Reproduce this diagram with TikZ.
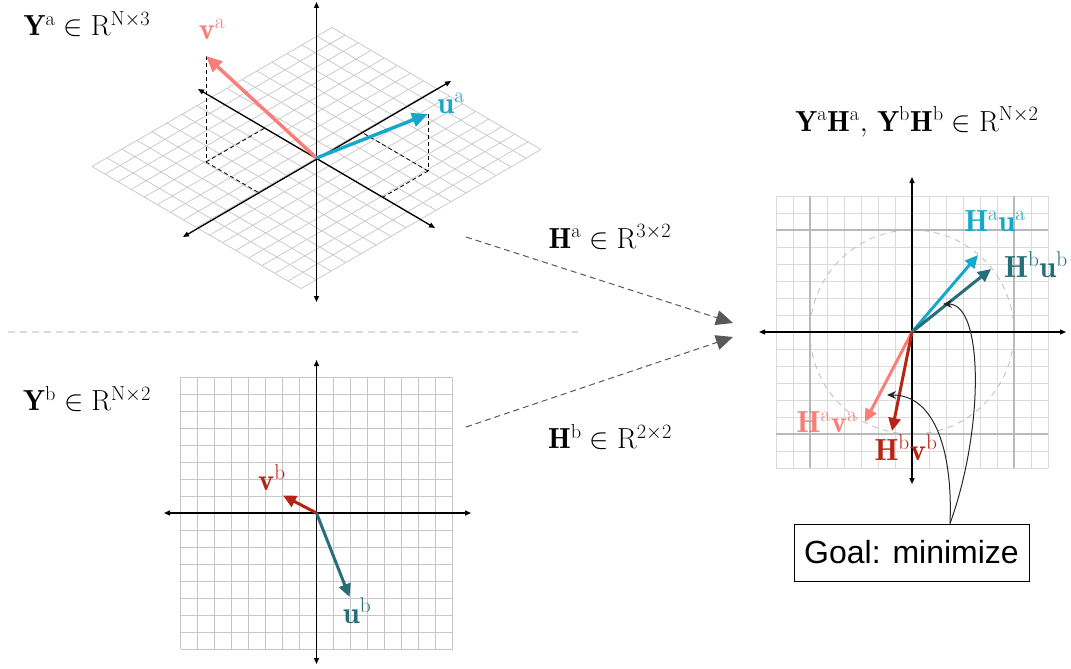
\RequirePackage{fix-cm}
\documentclass[tikz,border=0pt]{standalone}
\usepackage{fontspec}
\newfontfamily\goalfont{Liberation Sans}
\usetikzlibrary{arrows.meta}
\definecolor{salmon}{RGB}{250,125,120}
\definecolor{cyanb}{RGB}{22,168,204}
\definecolor{dred}{RGB}{185,35,20}
\definecolor{tealb}{RGB}{40,110,120}
\tikzset{
  axisline/.style={line width=1.3pt,{Triangle[length=6pt,width=5pt]}-{Triangle[length=6pt,width=5pt]}},
  vecbig/.style={line width=3.4pt,-{Triangle[length=16pt,width=14pt]}},
  vecmid/.style={line width=3pt,-{Triangle[length=13pt,width=12pt]}},
  gridline/.style={line width=0.7pt,gray!45},
  minorline/.style={line width=0.8pt,gray!28},
  majorline/.style={line width=1.4pt,gray!55},
  projline/.style={line width=0.8pt,black,dashed,dash pattern=on 4pt off 3pt},
  lbl/.style={inner sep=0pt,font=\fontsize{29}{33}\selectfont},
  veclbl/.style={inner sep=0pt,font=\fontsize{30.5}{34}\selectfont},
  maparrow/.style={line width=1pt,gray!70!black,dash pattern=on 6pt off 4pt,-{Triangle[length=17pt,width=15pt]}},
  sepline/.style={line width=1.2pt,gray!30,dash pattern=on 7pt off 5pt},
  curvearrow/.style={line width=1pt,black!85,-{Stealth[length=9pt,width=8pt]}},
  goalbox/.style={draw,line width=1pt,minimum width=235pt,minimum height=57pt,inner sep=0pt,font=\goalfont\fontsize{32}{37}\selectfont},
}
\begin{document}
\begin{tikzpicture}[x=1pt,y=-1pt]
\useasboundingbox (0,0) rectangle (1071,669);
\fill[white] (0,0) rectangle (1071,669);

% ---------------- top panel (3D) ----------------
\coordinate (Oa) at (316.5,158);
\foreach \i in {-8,...,8} {
  \draw[gridline] ({316.5+15*\i-104.5},{158-8.6875*\i-61}) -- ({316.5+15*\i+104.5},{158-8.6875*\i+61});
  \draw[gridline] ({316.5-120+13.0625*\i},{158+69.5+7.625*\i}) -- ({316.5+120+13.0625*\i},{158-69.5+7.625*\i});
}
\coordinate (va) at (206,56);
\coordinate (vaf) at (206,162);
\coordinate (vap1) at (265,128);
\coordinate (vap2) at (257.6,192);
\coordinate (ua) at (428,114);
\coordinate (uaf) at (428,171);
\coordinate (uap1) at (361.3,132);
\coordinate (uap2) at (383.2,197);
\draw[projline] (va) -- (vaf);
\draw[projline] (vaf) -- (vap1);
\draw[projline] (vaf) -- (vap2);
\draw[projline] (ua) -- (uaf);
\draw[projline] (uaf) -- (uap1);
\draw[projline] (uaf) -- (uap2);
\coordinate (za1) at (316.5,2);
\coordinate (za2) at (316.5,302);
\coordinate (xa1) at (198,89);
\coordinate (xa2) at (435,228);
\coordinate (ya1) at (183,237);
\coordinate (ya2) at (451,81);
\draw[axisline] (za1) -- (za2);
\draw[axisline] (xa1) -- (xa2);
\draw[axisline] (ya1) -- (ya2);
\draw[vecbig,salmon] (Oa) -- (va);
\draw[vecbig,cyanb] (Oa) -- (ua);
\node[veclbl,text=salmon] (valbl) at (212,29) {$\mathbf{v}^{\mathrm{a}}$};
\node[veclbl,text=cyanb] (ualbl) at (451,103) {$\mathbf{u}^{\mathrm{a}}$};
\node[lbl] (Ya) at (87,24) {$\mathbf{Y}^{\mathrm{a}}\in\mathrm{R}^{\mathrm{N}\times 3}$};

% separator
\coordinate (sep1) at (8,332);
\coordinate (sep2) at (578,332);
\draw[sepline] (sep1) -- (sep2);

% ---------------- bottom panel (2D) ----------------
\coordinate (Ob) at (316.5,513);
\foreach \i in {0,...,16} {
  \draw[gridline] ({180.5+17*\i},377) -- ({180.5+17*\i},649);
  \draw[gridline] (180.5,{377+17*\i}) -- (452.5,{377+17*\i});
}
\coordinate (zb1) at (316.5,360);
\coordinate (zb2) at (316.5,664);
\coordinate (xb1) at (164,513);
\coordinate (xb2) at (471,513);
\draw[axisline] (zb1) -- (zb2);
\draw[axisline] (xb1) -- (xb2);
\coordinate (vb) at (283,495.5);
\coordinate (ub) at (349.5,597);
\draw[vecmid,dred] (Ob) -- (vb);
\draw[vecmid,tealb] (Ob) -- (ub);
\node[veclbl,text=dred] (vblbl) at (272,478) {$\mathbf{v}^{\mathrm{b}}$};
\node[veclbl,text=tealb] (ublbl) at (357,611) {$\mathbf{u}^{\mathrm{b}}$};
\node[lbl] (Yb) at (87,399) {$\mathbf{Y}^{\mathrm{b}}\in\mathrm{R}^{\mathrm{N}\times 2}$};

% ---------------- mapping arrows ----------------
\coordinate (s1) at (466,237);
\coordinate (e1) at (733,323);
\coordinate (s2) at (466,427);
\coordinate (e2) at (733,337);
\draw[maparrow] (s1) -- (e1);
\draw[maparrow] (s2) -- (e2);
\node[lbl] (Ha) at (610,237) {$\mathbf{H}^{\mathrm{a}}\in\mathrm{R}^{3\times 2}$};
\node[lbl] (Hb) at (610,437) {$\mathbf{H}^{\mathrm{b}}\in\mathrm{R}^{2\times 2}$};

% ---------------- right panel ----------------
\coordinate (Oc) at (912,332);
\foreach \i in {0,...,16} {
  \draw[minorline] ({776+17*\i},196) -- ({776+17*\i},468);
  \draw[minorline] (776,{196+17*\i}) -- (1048,{196+17*\i});
}
\draw[majorline] (810,196) -- (810,468);
\draw[majorline] (1014,196) -- (1014,468);
\draw[majorline] (776,230) -- (1048,230);
\draw[majorline] (776,434) -- (1048,434);
\draw[gray!50,line width=0.8pt,dash pattern=on 6pt off 5pt] (Oc) circle[radius=102pt];
\coordinate (zc1) at (912,177);
\coordinate (zc2) at (912,484);
\coordinate (xc1) at (759,332);
\coordinate (xc2) at (1066,332);
\draw[axisline] (zc1) -- (zc2);
\draw[axisline] (xc1) -- (xc2);
\coordinate (hau) at (978,255);
\coordinate (hbu) at (991,269);
\coordinate (hav) at (865,422);
\coordinate (hbv) at (892,431);
\draw[vecmid,cyanb] (Oc) -- (hau);
\draw[vecmid,tealb] (Oc) -- (hbu);
\draw[vecmid,salmon] (Oc) -- (hav);
\draw[vecmid,dred] (Oc) -- (hbv);
\node[veclbl,text=cyanb] (haulbl) at (995,221) {$\mathbf{H}^{\mathrm{a}}\mathbf{u}^{\mathrm{a}}$};
\node[veclbl,text=tealb] (hbulbl) at (1036,265) {$\mathbf{H}^{\mathrm{b}}\mathbf{u}^{\mathrm{b}}$};
\node[veclbl,text=salmon] (havlbl) at (827,422) {$\mathbf{H}^{\mathrm{a}}\mathbf{v}^{\mathrm{a}}$};
\node[veclbl,text=dred] (hbvlbl) at (906,448) {$\mathbf{H}^{\mathrm{b}}\mathbf{v}^{\mathrm{b}}$};
\node[lbl] (YH) at (917,122) {$\mathbf{Y}^{\mathrm{a}}\mathbf{H}^{\mathrm{a}},\,\mathbf{Y}^{\mathrm{b}}\mathbf{H}^{\mathrm{b}}\in\mathrm{R}^{\mathrm{N}\times 2}$};

% ---------------- goal ----------------
\node[goalbox] (goal) at (911.5,552.5) {Goal: minimize};
\coordinate (gm) at ([xshift=38.5pt]goal.north);
\coordinate (t1) at (943,304);
\coordinate (t2) at (887,395);
\draw[curvearrow] (gm) .. controls (984,430) and (984,304) .. (t1);
\draw[curvearrow] (gm) .. controls (953,452) and (935,395) .. (t2);
\end{tikzpicture}
\end{document}
